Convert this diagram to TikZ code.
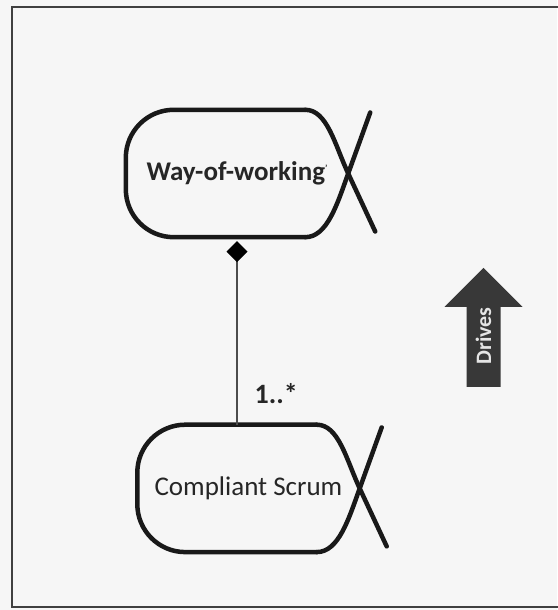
\documentclass[tikz,border=0pt]{standalone}
\usepackage{fontspec}
\setmainfont{Carlito}
\usetikzlibrary{positioning,calc,shapes.arrows,arrows.meta}
\tikzset{
  fish body/.style={minimum width=222pt, minimum height=127pt, inner sep=0pt, align=center, font=\fontsize{27}{32}\selectfont, text=black!85},
  fish line/.style={line width=4.5pt, draw=black!90, line cap=round, line join=round},
  composition/.style={line width=1.3pt, draw=black!70, {Diamond[length=21pt,width=21pt,black]}-, shorten <=4pt},
  multiplicity/.style={font=\bfseries\fontsize{28}{32}\selectfont, inner sep=0pt, text=black!85},
  frame/.style={line width=1.6pt, draw=black!75},
  drives arrow/.style={single arrow, rotate=90, single arrow head extend=22pt, minimum height=119pt, inner xsep=2pt, inner ysep=9pt, fill=black!78, text=gray!20, font=\bfseries\fontsize{22}{26}\selectfont},
}
\newcommand{\fishoutline}[1]{%
  \draw[fish line, rounded corners=48pt] ($(#1.north east)+(-43pt,0)$) -- (#1.north west) -- (#1.south west) -- ($(#1.south east)+(-43pt,0)$);
  \draw[fish line] ($(#1.north east)+(-43pt,0)$) .. controls +(22pt,0) and ($(#1.east)+(-13.5pt,29pt)$) .. (#1.east) -- +(27pt,-58pt);
  \draw[fish line] ($(#1.south east)+(-43pt,0)$) .. controls +(22pt,0) and ($(#1.east)+(-11pt,-30.5pt)$) .. (#1.east) -- +(22pt,61pt);
}
\begin{document}
\begin{tikzpicture}[x=1pt,y=1pt]
\useasboundingbox (0,0) rectangle (557,610);
\fill[gray!7] (0,0) rectangle (557,610);
\draw[frame] (560,603) -- (12,603) -- (12,3) -- (560,3);
% the nodes
\node [fish body, font=\bfseries\fontsize{27}{32}\selectfont] (wow) at (237,436.5) {Way-of-working\raisebox{9pt}{\fontsize{9}{9}\selectfont'}};
\node [fish body, below=187.5pt of wow, xshift=11.5pt] (scrum) {Compliant Scrum};
\node [drives arrow, anchor=tail] (drives) at (483.5,223) {Drives\hspace{10pt}};
% the outlines
\fishoutline{wow}
\fishoutline{scrum}
%drawings of vectors
\draw[composition] (wow.south) -- (wow.south |- scrum.north) node[multiplicity, anchor=base west, xshift=17pt, yshift=21.5pt] {1..*};
\end{tikzpicture}
\end{document}
